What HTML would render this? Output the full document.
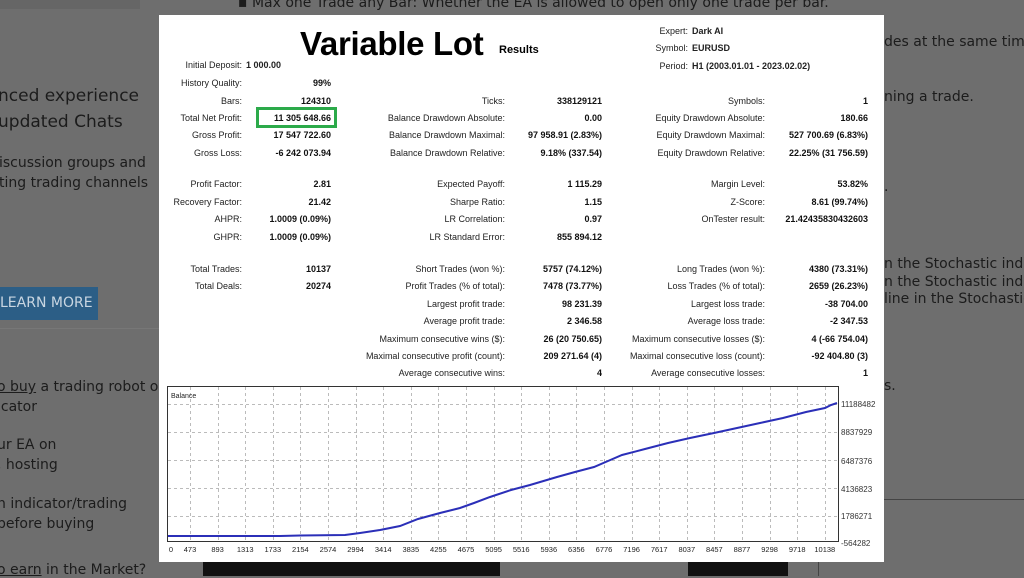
<!DOCTYPE html>
<html><head><meta charset="utf-8"><style>
*{margin:0;padding:0;box-sizing:border-box}
body{width:1024px;height:576px;overflow:hidden;background:#6e6e6e;position:relative;font-family:"DejaVu Sans","Liberation Sans",sans-serif;color:#1c1c1c}
.bg{position:absolute;white-space:nowrap;font-size:14px;color:#1c1c1c}
.big{font-size:17px}
#panel{position:absolute;left:159px;top:15px;width:725px;height:547px;background:#fff}
.t{position:absolute;white-space:nowrap;font-family:"Liberation Sans",sans-serif;font-size:9px;line-height:10px;color:#222}
.l{text-align:right}
.v{font-weight:bold;text-align:right;color:#111}
</style></head><body>
<div class="bg" style="left:238px;top:-5px;font-size:14px">▪ Max one Trade any Bar: Whether the EA is allowed to open only one trade per bar.</div>
<div style="position:absolute;left:0;top:0;width:140px;height:9px;background:#666"></div>
<div class="bg big" style="left:-2px;top:86px">nced experience</div>
<div class="bg big" style="left:-2px;top:112px">updated Chats</div>
<div class="bg" style="left:-1px;top:155px">iscussion groups and</div>
<div class="bg" style="left:-1px;top:175px">ting trading channels</div>
<div style="position:absolute;left:0;top:287px;width:98px;height:33px;background:#2c5e86;color:#c9d6e2;font-size:14px;line-height:33px;white-space:nowrap;overflow:hidden;font-family:'DejaVu Sans',sans-serif">LEARN MORE</div>
<div style="position:absolute;left:0;top:328px;width:160px;height:1px;background:#777"></div>
<div class="bg" style="left:-3px;top:379px"><u>o buy</u> a trading robot o</div>
<div class="bg" style="left:-3px;top:399px">icator</div>
<div class="bg" style="left:-3px;top:437px">ur EA on</div>
<div class="bg" style="left:-3px;top:457px">, hosting</div>
<div class="bg" style="left:-3px;top:496px">n indicator/trading</div>
<div class="bg" style="left:-3px;top:516px">before buying</div>
<div class="bg" style="left:-3px;top:562px"><u>o earn</u> in the Market?</div>
<div class="bg" style="left:884px;top:34px">des at the same time</div>
<div class="bg" style="left:884px;top:89px">ning a trade.</div>
<div class="bg" style="left:884px;top:179px">.</div>
<div class="bg" style="left:884px;top:256px">n the Stochastic indic</div>
<div class="bg" style="left:884px;top:274px">n the Stochastic indic</div>
<div class="bg" style="left:884px;top:291px">line in the Stochastic</div>
<div class="bg" style="left:884px;top:378px">s.</div>
<div style="position:absolute;left:884px;top:499px;width:140px;height:1px;background:#444"></div>
<div style="position:absolute;left:818px;top:499px;width:1px;height:77px;background:#444"></div>
<div style="position:absolute;left:203px;top:562px;width:297px;height:14px;background:#111"></div>
<div style="position:absolute;left:688px;top:562px;width:100px;height:14px;background:#111"></div>

<div id="panel"></div>
<div class="t" style="left:300px;top:24px;font-size:33px;line-height:40px;font-weight:bold;color:#000;letter-spacing:-0.3px">Variable Lot</div>
<div class="t" style="left:499px;top:44px;font-size:11px;line-height:12px;font-weight:bold;color:#000">Results</div>

<div class="t l" style="left:600px;width:88px;top:26px">Expert:</div><div class="t" style="left:692px;top:26px;font-weight:bold">Dark AI</div>
<div class="t l" style="left:600px;width:88px;top:43px">Symbol:</div><div class="t" style="left:692px;top:43px;font-weight:bold">EURUSD</div>
<div class="t l" style="left:600px;width:88px;top:61px">Period:</div><div class="t" style="left:692px;top:61px;font-weight:bold">H1 (2003.01.01 - 2023.02.02)</div>

<div class="t l" style="left:140px;width:102px;top:60px">Initial Deposit:</div><div class="t" style="left:246px;top:60px;font-weight:bold">1 000.00</div>

<div style="position:absolute;left:256px;top:107px;width:81px;height:21px;border:3px solid #2caa4a"></div>

<div id="rows"></div>
<script>
const R=[
[78,["History Quality:","99%"],null,null],
[96,["Bars:","124310"],["Ticks:","338129121"],["Symbols:","1"]],
[113,["Total Net Profit:","11 305 648.66"],["Balance Drawdown Absolute:","0.00"],["Equity Drawdown Absolute:","180.66"]],
[130,["Gross Profit:","17 547 722.60"],["Balance Drawdown Maximal:","97 958.91 (2.83%)"],["Equity Drawdown Maximal:","527 700.69 (6.83%)"]],
[148,["Gross Loss:","-6 242 073.94"],["Balance Drawdown Relative:","9.18% (337.54)"],["Equity Drawdown Relative:","22.25% (31 756.59)"]],
[179,["Profit Factor:","2.81"],["Expected Payoff:","1 115.29"],["Margin Level:","53.82%"]],
[197,["Recovery Factor:","21.42"],["Sharpe Ratio:","1.15"],["Z-Score:","8.61 (99.74%)"]],
[214,["AHPR:","1.0009 (0.09%)"],["LR Correlation:","0.97"],["OnTester result:","21.42435830432603"]],
[232,["GHPR:","1.0009 (0.09%)"],["LR Standard Error:","855 894.12"],null],
[264,["Total Trades:","10137"],["Short Trades (won %):","5757 (74.12%)"],["Long Trades (won %):","4380 (73.31%)"]],
[281,["Total Deals:","20274"],["Profit Trades (% of total):","7478 (73.77%)"],["Loss Trades (% of total):","2659 (26.23%)"]],
[299,null,["Largest profit trade:","98 231.39"],["Largest loss trade:","-38 704.00"]],
[316,null,["Average profit trade:","2 346.58"],["Average loss trade:","-2 347.53"]],
[334,null,["Maximum consecutive wins ($):","26 (20 750.65)"],["Maximum consecutive losses ($):","4 (-66 754.04)"]],
[351,null,["Maximal consecutive profit (count):","209 271.64 (4)"],["Maximal consecutive loss (count):","-92 404.80 (3)"]],
[368,null,["Average consecutive wins:","4"],["Average consecutive losses:","1"]]
];
const C=[[242,331],[505,602],[765,868]];
let h="";
for(const r of R){for(let i=0;i<3;i++){const c=r[i+1];if(!c)continue;
h+=`<div class="t l" style="left:${C[i][0]-200}px;width:200px;top:${r[0]}px">${c[0]}</div>`;
h+=`<div class="t v" style="left:${C[i][1]-150}px;width:150px;top:${r[0]}px">${c[1]}</div>`;}}
document.getElementById("rows").innerHTML=h;
</script>

<svg style="position:absolute;left:0;top:0" width="1024" height="576">
<rect x="167.5" y="386.5" width="671" height="155" fill="#fff" stroke="#333"/>
<g stroke="#bbb" stroke-dasharray="3,3" stroke-width="1">
<line x1="168" x2="838" y1="404.5" y2="404.5"/><line x1="168" x2="838" y1="432.5" y2="432.5"/><line x1="168" x2="838" y1="460.5" y2="460.5"/><line x1="168" x2="838" y1="488.5" y2="488.5"/><line x1="168" x2="838" y1="516.5" y2="516.5"/>
<g id="vg"></g>
</g>
<text x="171" y="398" font-family="Liberation Sans" font-size="7" fill="#222">Balance</text>
<g font-family="Liberation Sans" font-size="8" fill="#333">
<text x="841" y="407">11188482</text><text x="841" y="435">8837929</text><text x="841" y="464">6487376</text><text x="841" y="492">4136823</text><text x="841" y="519">1786271</text><text x="841" y="546">-564282</text>
</g>
<g id="xl" font-family="Liberation Sans" font-size="7.5" fill="#222" text-anchor="middle"></g>
<polyline fill="none" stroke="#2b2fb8" stroke-width="2" points="168,536 280,536 300,535.5 345,535 360,533 380,530 400,526 418,519 440,513 460,508 474,503 490,497 511,490 530,485 557,477 575,472 594,467 608,461 622,455 645,449 668,443 690,438 714,433 737,428 760,423 783,418 806,412 825,408 831,405 837,403"/>
</svg>
<script>
const xs=["0","473","893","1313","1733","2154","2574","2994","3414","3835","4255","4675","5095","5516","5936","6356","6776","7196","7617","8037","8457","8877","9298","9718","10138"];
let a="",b="";
xs.forEach((s,i)=>{const x=i==0?171:190+(i-1)*27.6;a+=`<text x="${x}" y="552">${s}</text>`;if(i>0)b+=`<line x1="${Math.round(x)+0.5}" x2="${Math.round(x)+0.5}" y1="387" y2="541"/>`;});
document.getElementById("xl").innerHTML=a;document.getElementById("vg").innerHTML=b;
</script>
</body></html>
